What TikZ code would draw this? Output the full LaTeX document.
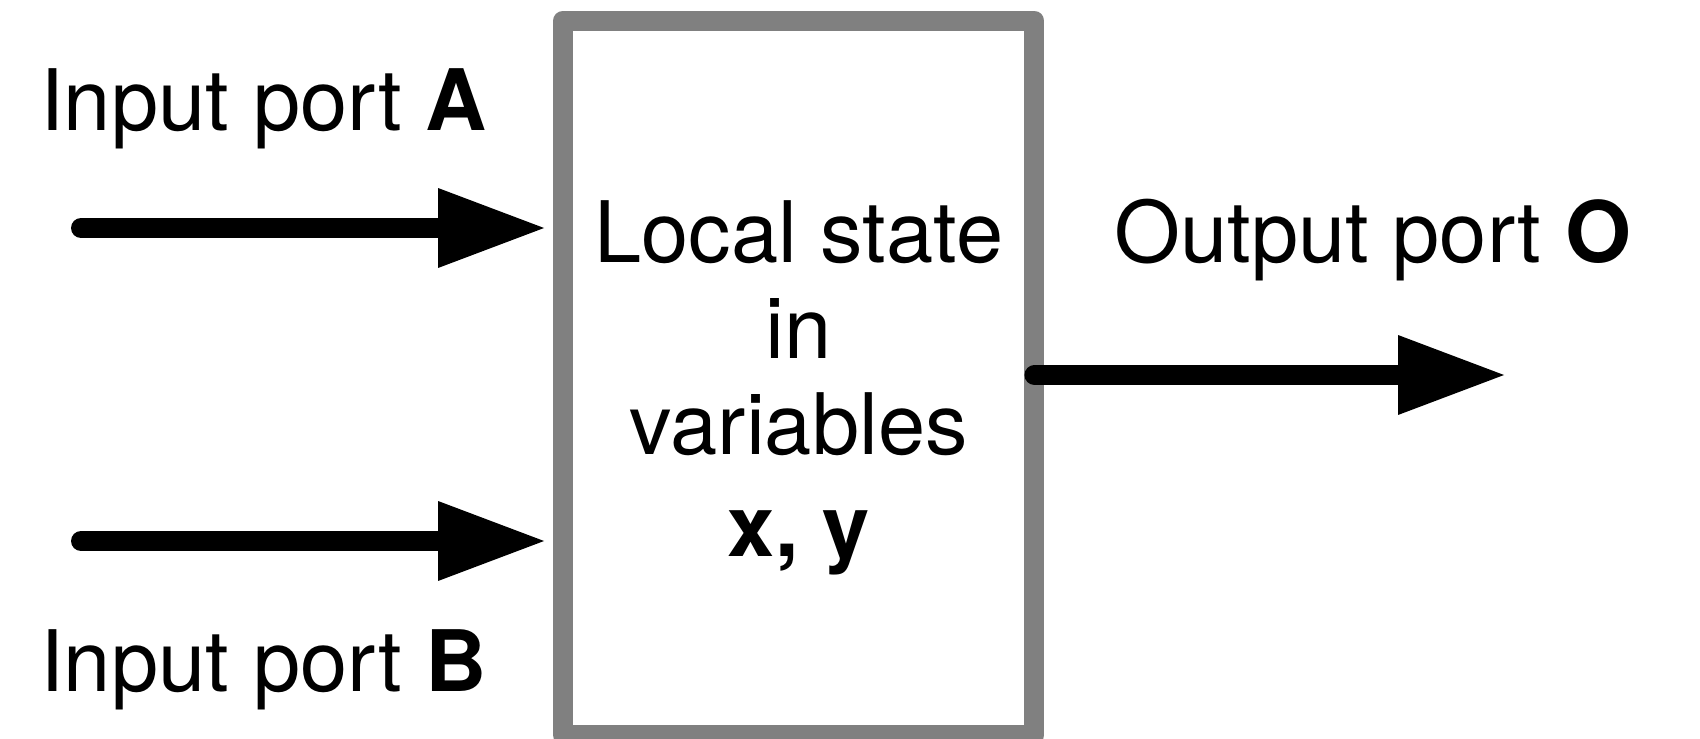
\documentclass[tikz,border=0pt]{standalone}
\usepackage{fontspec}
\setmainfont{TeX Gyre Heros}
\usetikzlibrary{arrows.meta,positioning}

\definecolor{boxgrey}{RGB}{128,128,128}
\newcommand{\bigfont}{\fontsize{48.3}{54.6}\selectfont}

\tikzset{
  port/.style={font=\bigfont, inner sep=0pt, anchor=base west},
  flow/.style={line width=0.4cm, line cap=round,
    -{Triangle[length=2.12cm, width=1.6cm, line width=0pt]}},
}

\begin{document}
\begin{tikzpicture}[x=0.02cm, y=-0.02cm]
  \useasboundingbox (0,0) rectangle (1700,739);
  % the component
  \node[draw=boxgrey, line width=0.4cm, line join=round, outer sep=0pt,
        minimum width=9.43cm, minimum height=14.29cm] (state) at (798.75,377.75) {};
  \node[font=\bigfont, align=center, inner sep=0pt, anchor=north] (statetext) at (798.75,200)
    {Local state\\in\\variables\\[0.12cm]\textbf{x, y}};

  % ports
  \node[port] (labA) at (40,131) {Input port \textbf{A}};
  \node[port] (labB) at (40,691) {Input port \textbf{B}};
  \node[port] (labO) at (1114,263) {Output port \textbf{O}};

  \coordinate (inA) at (81,228);
  \coordinate (inB) at (81,541);
  \coordinate (outO) at (1504,375);

  \draw[flow, shorten >=0.38cm] (inA) -- (inA -| state.west);
  \draw[flow, shorten >=0.38cm] (inB) -- (inB -| state.west);
  \draw[flow] (state.east |- outO) -- (outO);
\end{tikzpicture}
\end{document}
